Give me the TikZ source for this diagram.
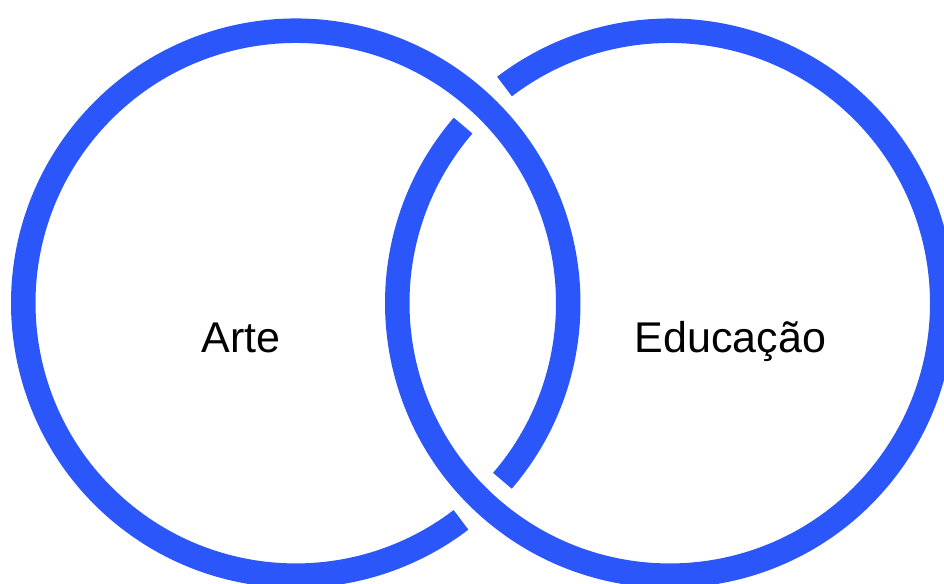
\documentclass[tikz,border=0pt]{standalone}
\usepackage{fontspec}
\setmainfont{Liberation Sans}
\definecolor{ringblue}{RGB}{43,86,250}
\begin{document}
\begin{tikzpicture}[x=1pt,y=1pt,
    ring/.style={draw=ringblue,line width=24.5pt},
    label/.style={anchor=base,font=\fontsize{43}{50}\selectfont}]
      \useasboundingbox (0,0) rectangle (944,583);
      \coordinate (L) at (295.75,279.8);
      \coordinate (R) at (669.75,279.8);
      \begin{scope}[ring]
        \draw (L) ++(-40.67:272.5) arc[start angle=-40.67,delta angle=348,radius=272.5];
        \draw (R) ++(139.33:272.5) arc[start angle=139.33,delta angle=348,radius=272.5];
      \end{scope}
      \draw
        (241,230.3) node[label] (arte){Arte}
        (730.5,230.3) node[label] (educacao){Educação};
    \end{tikzpicture}
\end{document}
